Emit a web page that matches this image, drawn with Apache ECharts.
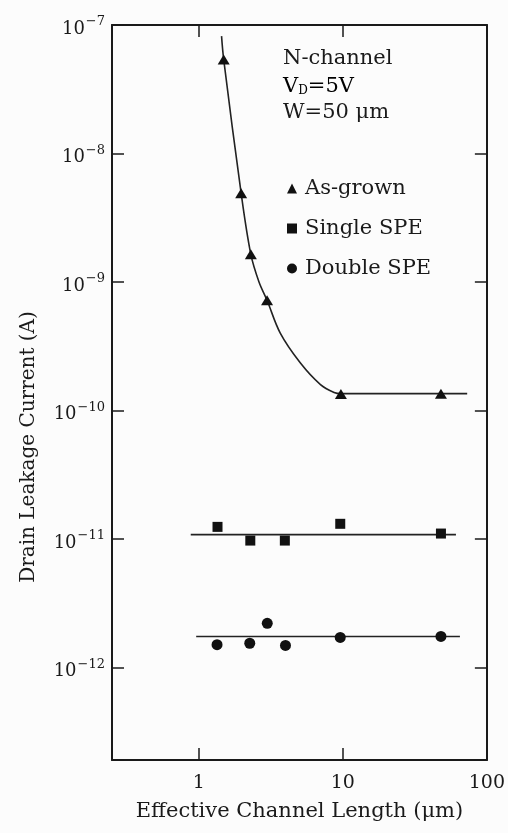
<!DOCTYPE html>
<html>
<head>
<meta charset="utf-8">
<title>Drain leakage current vs effective channel length</title>
<script src="https://cdn.jsdelivr.net/npm/echarts@6.0.0/dist/echarts.min.js"></script>
<style>
  html, body { margin: 0; padding: 0; background: #fcfcfc; }
  #chart { width: 508px; height: 833px; }
</style>
</head>
<body>
<div id="chart"></div>
<script>
// measured points: [effective channel length (um), drain leakage current (A)]
const asGrown = [[1.49, 5.4e-8], [1.97, 4.9e-9], [2.3, 1.64e-9], [2.98, 7.2e-10], [9.7, 1.34e-10], [48, 1.35e-10]];
const singleSpe = [[1.35, 1.24e-11], [2.28, 9.7e-12], [3.96, 9.7e-12], [9.6, 1.31e-11], [48, 1.1e-11]];
const doubleSpe = [[1.34, 1.5e-12], [2.26, 1.54e-12], [2.99, 2.2e-12], [4.0, 1.48e-12], [9.6, 1.71e-12], [48, 1.74e-12]];

// fitted curves, points
const asGrownFit = [[1.44, 8.2e-8], [1.49, 5.4e-8], [1.97, 4.9e-9], [2.3, 1.64e-9], [2.62, 1.0e-9],
  [2.98, 7.2e-10], [3.68, 4.0e-10], [5.08, 2.34e-10], [7.0, 1.59e-10], [8.7, 1.38e-10], [9.7, 1.35e-10], [73, 1.35e-10]];
const singleSpeFit = [[0.88, 1.08e-11], [61, 1.08e-11]];
const doubleSpeFit = [[0.96, 1.74e-12], [65, 1.74e-12]];

const seriesNames = ['As-grown', 'Single SPE', 'Double SPE'];
const xRange = [0.25, 100];
const yRange = [1.9e-13, 1e-7];

const FONT = '"DejaVu Serif", "Liberation Serif", serif';
const INK = '#1a1a1a';

// only label whole decades
const isDecade = v => Math.abs(Math.log10(v) - Math.round(Math.log10(v))) < 1e-6;
const xLabel = v => isDecade(v) ? String(Math.round(v)) : '';
const yLabel = v => isDecade(v) ? '{b|10}{s|\u2212' + (-Math.round(Math.log10(v))) + '}' : '';

const axisLine = { show: true, lineStyle: { color: INK, width: 2 } };
const axisTick = { show: true, inside: true, length: 12, lineStyle: { color: INK, width: 1.5 } };
const fitStyle = { color: '#222', width: 1.6 };

const chart = echarts.init(document.getElementById('chart'));

chart.setOption({
  backgroundColor: '#fcfcfc',
  animation: false,
  grid: { left: 112, right: 19, top: 25, bottom: 73 },
  legend: {
    data: [
      { name: seriesNames[0], icon: 'triangle' },
      { name: seriesNames[1], icon: 'rect' },
      { name: seriesNames[2], icon: 'circle' }
    ],
    orient: 'vertical',
    left: 282,
    top: 173,
    itemWidth: 10,
    itemHeight: 10,
    itemGap: 19,
    selectedMode: false,
    itemStyle: { opacity: 1 },
    textStyle: { fontFamily: FONT, fontSize: 21, color: INK, lineHeight: 20, padding: [0, 0, 0, 3] }
  },
  xAxis: [
    {
      type: 'log',
      min: xRange[0],
      max: xRange[1],
      position: 'bottom',
      axisLine: axisLine,
      axisTick: axisTick,
      splitLine: { show: false },
      axisLabel: { formatter: xLabel, fontFamily: FONT, fontSize: 19, color: INK, margin: 14 },
      name: 'Effective Channel Length (\u03bcm)',
      nameLocation: 'middle',
      nameGap: 41,
      nameTextStyle: { fontFamily: FONT, fontSize: 21, color: INK }
    },
    {
      type: 'log',
      min: xRange[0],
      max: xRange[1],
      position: 'top',
      axisLine: axisLine,
      axisTick: axisTick,
      splitLine: { show: false },
      axisLabel: { show: false }
    }
  ],
  yAxis: [
    {
      type: 'log',
      min: yRange[0],
      max: yRange[1],
      position: 'left',
      axisLine: axisLine,
      axisTick: axisTick,
      splitLine: { show: false },
      axisLabel: {
        formatter: yLabel,
        margin: 7,
        rich: {
          b: { fontFamily: FONT, fontSize: 18, color: INK, padding: [8, 0, 0, 0] },
          s: { fontFamily: FONT, fontSize: 13, color: INK, padding: [0, 0, 6, 1] }
        }
      }
    },
    {
      type: 'log',
      min: yRange[0],
      max: yRange[1],
      position: 'right',
      axisLine: axisLine,
      axisTick: axisTick,
      splitLine: { show: false },
      axisLabel: { show: false }
    }
  ],
  graphic: [
    {
      type: 'text',
      x: 29,
      y: 447,
      rotation: Math.PI / 2,
      style: {
        text: 'Drain Leakage Current (A)',
        font: '20px ' + FONT,
        fill: INK,
        align: 'center',
        verticalAlign: 'middle'
      }
    },
    {
      type: 'text',
      left: 283,
      top: 48,
      style: { text: 'N-channel', font: '21px ' + FONT, fill: INK }
    },
    {
      type: 'text',
      left: 283,
      top: 76,
      style: {
        text: '{n|V}{d|D}{n|=5V}',
        rich: {
          n: { fontFamily: FONT, fontSize: 21, color: INK },
          d: { fontFamily: FONT, fontSize: 12, color: INK, padding: [9, 0, 0, 0] }
        }
      }
    },
    {
      type: 'text',
      left: 283,
      top: 102,
      style: { text: 'W=50 \u03bcm', font: '21px ' + FONT, fill: INK }
    }
  ],
  series: [
    {
      type: 'line',
      data: asGrownFit,
      showSymbol: false,
      smooth: 0.35,
      silent: true,
      lineStyle: fitStyle,
      z: 1
    },
    {
      type: 'line',
      data: singleSpeFit,
      showSymbol: false,
      silent: true,
      lineStyle: fitStyle,
      z: 1
    },
    {
      type: 'line',
      data: doubleSpeFit,
      showSymbol: false,
      silent: true,
      lineStyle: fitStyle,
      z: 1
    },
    {
      name: seriesNames[0],
      type: 'scatter',
      data: asGrown,
      symbol: 'triangle',
      symbolSize: [12, 10],
      itemStyle: { color: '#111', opacity: 1 },
      z: 3
    },
    {
      name: seriesNames[1],
      type: 'scatter',
      data: singleSpe,
      symbol: 'rect',
      symbolSize: 10,
      itemStyle: { color: '#111', opacity: 1 },
      z: 3
    },
    {
      name: seriesNames[2],
      type: 'scatter',
      data: doubleSpe,
      symbol: 'circle',
      symbolSize: 11,
      itemStyle: { color: '#111', opacity: 1 },
      z: 3
    }
  ]
});
</script>
</body>
</html>
